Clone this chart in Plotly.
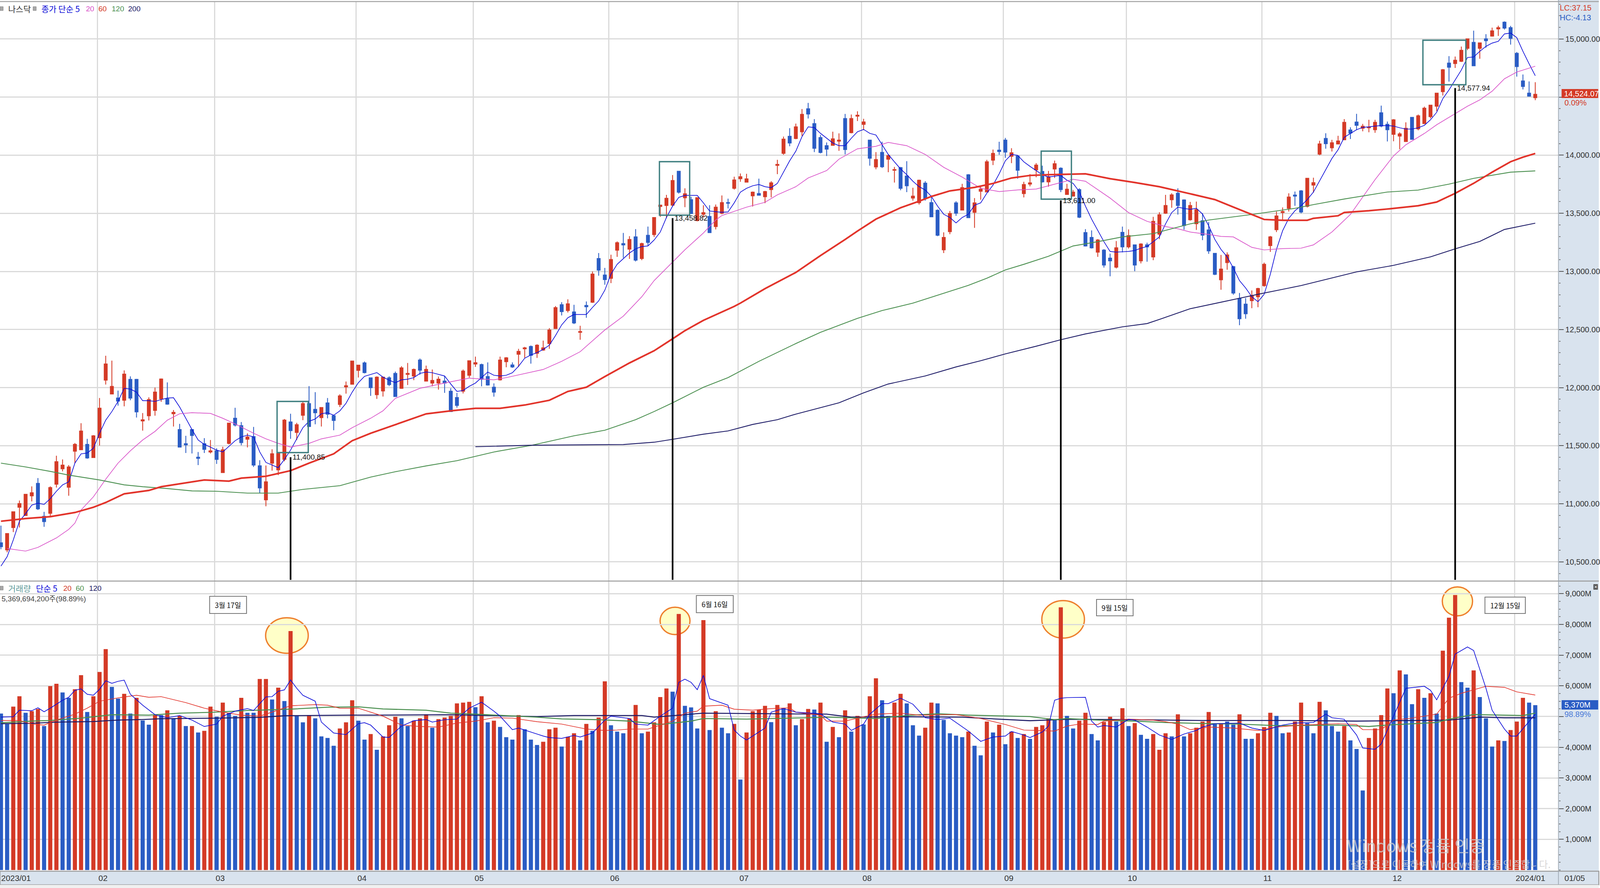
import plotly.graph_objects as go

# 나스닥 일봉 2023/01 ~ 2024/01, values read from the screen shot
# W, H: size of the screen shot, positions below are in its pixels
W, H = 5026, 2274
# the browser page is only 4096 wide, so text and lines get a bit smaller
S = 1.18

opens = [10664,10603,10796,10970,10899,11069,11176,10892,10918,11169,
11301,11143,11453,11465,11511,11398,11569,12064,11945,11910,
11891,12071,12071,11713,11758,11804,11903,11903,11775,11639,
11517,11639,11401,11517,11446,11456,11269,11520,11736,11672,
11556,11578,11327,11034,11350,11292,11382,11704,11614,11762,
11862,11813,11742,11868,11758,11855,12006,12029,12148,12213,
12084,11939,11971,12084,12122,11994,12114,12100,12237,12056,
12039,12039,12056,11969,11914,11969,12106,12203,12198,12095,
12003,12067,12223,12195,12287,12334,12354,12295,12323,12379,
12509,12713,12663,12651,12476,12707,12735,13111,12969,12941,
13183,13239,13192,13297,13111,13311,13317,13559,13567,13570,
13862,13634,13617,13437,13492,13473,13386,13501,13592,13715,
13798,13768,13651,13670,13643,13704,13913,14016,14163,14144,
14202,14400,14272,14152,14082,14085,14121,14316,14194,14336,
14266,14130,13899,14024,13966,13871,13893,13821,13631,13592,
13759,13592,13526,13186,13342,13590,13528,13832,13509,13690,
13684,13957,14043,14130,13991,13993,13670,13751,13874,13860,
13771,13882,13888,13662,13648,13704,13334,13292,13166,13183,
13114,13036,13336,13211,13228,13091,13228,13125,13320,13501,
13617,13673,13615,13445,13410,13436,13357,13155,12928,13076,
13041,12767,12718,12748,12782,12878,13222,13359,13507,13543,
13657,13693,13560,13743,14009,14144,14064,14097,14133,14217,
14285,14232,14236,14219,14365,14266,14180,14165,14118,14326,
14227,14272,14332,14422,14547,14793,14789,14808,14920,14971,
14920,15001,15025,15087,15145,15098,14877,14639,14534,14495]

closes = [10631,10744,10931,11002,11082,11095,10957,10847,11140,11362,
11333,11317,11511,11626,11395,11585,11823,12203,12010,11884,
12116,11910,11791,11723,11897,11961,12074,11858,11787,11488,
11507,11588,11391,11469,11456,11382,11465,11694,11678,11527,
11575,11333,11137,11189,11430,11433,11720,11630,11681,11862,
11665,11784,11829,11771,11717,11929,12016,12229,12193,12129,
12000,12090,12090,12026,11923,12170,12122,12156,12150,12156,
12061,12072,12039,11794,11847,12142,12231,12214,12072,12022,
11961,12237,12256,12178,12312,12342,12278,12365,12342,12496,
12688,12654,12721,12557,12482,12696,12977,13011,12930,13102,
13247,13228,13275,13097,13239,13250,13464,13570,13629,13782,
13682,13668,13498,13634,13506,13334,13553,13592,13587,13787,
13815,13796,13682,13656,13687,13762,13921,14138,14105,14244,
14352,14355,14060,14024,14052,14141,14130,14049,14316,14344,
14286,13974,13963,13901,13996,13876,13715,13737,13648,13785,
13626,13470,13311,13292,13498,13501,13721,13462,13590,13707,
13943,14016,14032,14027,14021,13871,13748,13762,13915,13771,
13815,13927,13704,13707,13682,13467,13219,13203,13270,13055,
13091,13203,13211,13308,13055,13236,13211,13431,13487,13567,
13659,13567,13395,13567,13532,13312,13177,12975,13020,13142,
12814,12593,12636,12793,12853,13061,13297,13477,13515,13640,
13648,13511,13801,13764,14097,14099,14107,14122,14283,14191,
14257,14249,14242,14283,14251,14219,14305,14184,14232,14137,
14339,14405,14431,14534,14736,14757,14817,14903,15001,14770,
14967,14986,15070,15098,15094,15006,14763,14592,14508,14524.07]

highs = [10812,10744,10931,11028,11082,11150,11221,10931,11150,11414,
11382,11333,11523,11694,11559,11591,11910,12274,12232,11974,
12148,12097,12075,11781,11916,12000,12078,12045,11807,11688,
11585,11640,11446,11565,11549,11478,11491,11694,11826,11704,
11607,11662,11375,11330,11469,11433,11730,11775,11697,11878,
12013,11961,11829,11910,11760,11942,12052,12229,12193,12225,
12084,12097,12090,12097,12138,12184,12212,12164,12251,12189,
12156,12095,12100,11994,11955,12156,12231,12267,12206,12217,
12036,12267,12262,12217,12334,12351,12362,12373,12404,12512,
12702,12735,12760,12713,12532,12741,12999,13158,13030,13144,
13258,13331,13303,13364,13247,13386,13464,13570,13659,13829,
13862,13715,13642,13634,13570,13570,13576,13654,13626,13815,
13843,13840,13687,13798,13693,13776,13960,14160,14233,14272,
14397,14450,14311,14174,14110,14202,14188,14355,14350,14378,
14313,14130,14027,14116,14007,13899,13899,13949,13720,13790,
13776,13654,13534,13336,13520,13604,13754,13837,13631,13734,
13960,14049,14116,14149,14060,13999,13771,13837,13932,13910,
13865,13954,13896,13754,13701,13715,13364,13353,13278,13192,
13153,13261,13386,13361,13228,13242,13247,13470,13509,13659,
13673,13715,13620,13598,13601,13500,13425,13159,13142,13164,
13048,12814,12771,12836,12859,13076,13305,13515,13550,13672,
13687,13700,13803,13807,14124,14189,14133,14167,14311,14240,
14356,14270,14305,14305,14427,14290,14311,14197,14283,14326,
14350,14418,14433,14534,14742,14853,14849,14935,15001,15072,
14969,15042,15098,15115,15152,15113,14888,14695,14635,14628]

lows = [10609,10583,10757,10796,10899,11021,10947,10802,10886,11140,
11279,11069,11350,11465,11388,11395,11501,12026,11945,11845,
11839,11891,11742,11630,11717,11758,11878,11852,11665,11485,
11437,11433,11333,11437,11433,11343,11269,11511,11665,11504,
11485,11317,11092,10979,11285,11247,11366,11559,11549,11720,
11662,11684,11665,11736,11633,11833,11948,12026,12087,12122,
11929,11903,11923,12013,11923,11989,12022,12064,12111,12056,
12011,11983,11955,11794,11827,11950,12086,12178,12011,12017,
11922,12061,12175,12170,12178,12256,12206,12256,12317,12334,
12504,12621,12646,12546,12412,12601,12729,12963,12885,12899,
13125,13116,13108,13086,13097,13222,13297,13470,13459,13559,
13670,13553,13498,13431,13464,13331,13361,13492,13542,13704,
13771,13765,13559,13654,13587,13637,13837,14004,14077,14138,
14166,14316,14027,14016,13993,14082,14038,14007,14188,14294,
14216,13910,13879,13890,13854,13765,13698,13682,13609,13576,
13609,13467,13303,13158,13320,13478,13528,13459,13375,13617,
13682,13915,14004,13977,13932,13798,13637,13732,13810,13765,
13729,13804,13682,13659,13645,13459,13214,13197,13125,13033,
12958,13025,13164,13197,13002,13069,13083,13097,13278,13495,
13548,13489,13359,13437,13357,13269,13151,12968,12842,13014,
12799,12537,12593,12683,12692,12868,13168,13339,13442,13515,
13565,13500,13550,13678,14000,14056,14032,14094,14129,14139,
14219,14206,14197,14193,14240,14118,14120,14051,14116,14133,
14214,14268,14317,14380,14513,14633,14751,14802,14905,14766,
14830,14926,15021,15027,15081,14952,14676,14566,14504,14474]

ma5 = [10464,10545,10689,10850,10915,10989,11005,10995,11044,11108,
11163,11189,11350,11430,11437,11478,11607,11720,11794,11881,
11994,11987,11961,11887,11887,11881,11897,11910,11913,11833,
11736,11639,11549,11511,11488,11462,11446,11494,11543,11575,
11591,11575,11446,11356,11333,11311,11382,11462,11559,11655,
11710,11730,11775,11784,11762,11800,11865,11961,12042,12097,
12113,12129,12090,12064,12042,12067,12072,12086,12122,12134,
12128,12114,12100,12031,11967,11975,12011,12039,12086,12134,
12106,12100,12106,12128,12184,12253,12281,12301,12329,12365,
12448,12540,12601,12629,12629,12629,12690,12746,12838,12977,
13061,13108,13158,13194,13214,13219,13270,13339,13464,13562,
13637,13654,13654,13654,13590,13520,13514,13509,13512,13590,
13682,13715,13737,13748,13729,13721,13757,13854,13952,14035,
14160,14244,14238,14188,14146,14105,14082,14082,14146,14202,
14222,14188,14174,14091,14007,13943,13882,13832,13776,13729,
13701,13645,13562,13492,13464,13417,13464,13492,13570,13590,
13673,13743,13840,13952,14007,13999,13943,13904,13868,13832,
13812,13818,13826,13785,13757,13687,13562,13450,13353,13256,
13172,13166,13169,13172,13180,13200,13214,13256,13297,13409,
13506,13553,13542,13534,13543,13494,13393,13275,13189,13125,
13029,12921,12857,12782,12739,12803,12975,13189,13350,13457,
13522,13565,13618,13683,13779,13876,13972,14047,14154,14187,
14219,14240,14244,14251,14255,14255,14251,14236,14225,14225,
14236,14257,14305,14369,14487,14562,14648,14733,14841,14845,
14894,14937,14965,14980,15044,15051,15012,14894,14787,14684]

ma20_idx = [1,4,6,9,11,12,13,15,17,19,21,23,25,27,29,31,34,36,38,41,43,45,47,50,52,55,57,60,62,64,
68,70,73,76,80,82,85,88,91,94,98,101,104,106,109,111,114,116,117,121,124,126,129,
131,134,136,139,142,144,147,150,153,156,159,162,165,168,172,174,176,180,183,186,189,191,193,
196,198,200,203,205,208,211,213,216,219,221,223,226,228,231,233,236,238,240,242,244,246,249]
ma20 = [10615,10593,10625,10706,10780,10834,10947,11060,11211,11350,11456,11549,11623,11720,11775,11784,11778,11736,11688,11607,11559,11520,11488,11520,11559,11591,11655,11736,11800,11907,
11994,12017,12050,12081,12067,12086,12122,12156,12226,12309,12496,12615,12782,12921,13080,13186,13331,13442,13481,13553,13595,13659,13729,
13804,13868,13966,14055,14077,14110,14082,14007,13896,13812,13715,13687,13701,13709,13765,13793,13776,13631,13506,13431,13386,13367,13339,
13318,13301,13297,13207,13185,13196,13200,13228,13339,13490,13640,13790,13994,14090,14187,14262,14358,14422,14476,14551,14658,14716,14766]

ma60_idx = [0,4,8,12,15,17,20,24,26,30,33,37,39,43,47,50,54,57,60,64,
67,69,73,77,81,85,89,92,95,98,102,106,109,111,114,119,120,124,129,
133,137,139,142,146,149,151,154,158,161,164,167,170,176,180,184,188,193,
197,200,203,205,208,212,213,217,218,222,225,230,233,236,239,242,245,247,249]
ma60 = [10850,10873,10889,10925,10970,11011,11086,11115,11147,11179,11205,11195,11221,11237,11285,11350,11430,11543,11607,11681,
11738,11774,11800,11822,11822,11850,11891,11967,12003,12095,12212,12317,12420,12490,12579,12699,12727,12852,12991,
13136,13275,13347,13450,13548,13604,13645,13693,13723,13757,13804,13826,13832,13840,13798,13765,13729,13668,
13618,13554,13490,13447,13440,13440,13457,13479,13507,13522,13537,13565,13597,13672,13758,13854,13944,13983,14015]

ma120_idx = [0,4,8,11,16,20,23,27,31,35,40,45,49,55,60,64,
69,74,80,86,93,98,103,106,109,114,118,120,123,129,
133,139,143,148,154,157,160,163,166,170,174,178,182,187,190,193,
196,200,203,210,213,218,225,230,235,239,245,249]
ma120 = [11350,11317,11279,11247,11205,11163,11147,11131,11111,11108,11092,11092,11124,11156,11230,11276,
11326,11371,11446,11502,11585,11633,11724,11794,11869,12003,12086,12142,12226,12379,
12476,12596,12663,12727,12830,12880,12941,13013,13061,13130,13219,13256,13297,13325,13367,13409,
13442,13468,13490,13543,13575,13623,13683,13700,13751,13801,13854,13865]

ma200_idx = [77,86,101,106,109,114,118,122,126,129,136,140,144,150,155,159,163,168,172,176,182,186,188,193,
198,204,211,220,226,232,236,240,244,249]
ma200 = [11491,11504,11510,11530,11555,11599,11627,11683,11724,11772,11869,11955,12031,12100,12178,12231,12290,12356,12412,12462,12523,12551,12587,12679,
12735,12803,12878,12996,13052,13125,13194,13258,13361,13415]

volume = [5097,4754,5324,5661,5123,5175,5246,4689,5991,6069,
5784,5609,5888,6347,5149,5661,6451,7196,5965,5583,
5739,5097,5609,4871,4735,5046,5046,5201,4948,5026,
4689,4689,4482,4534,5324,4994,5454,5123,5020,5609,
5123,5123,6224,6224,5557,5939,5505,7785,5020,4812,
5026,4942,4353,4301,4048,4612,4812,5531,4864,4249,
4430,3919,4353,4715,4994,4942,4689,4864,4942,5071,
4638,4916,4968,5020,5428,5454,5480,5305,5661,4812,
4864,4663,4327,4249,5046,4586,4249,4074,4178,4586,
4638,4022,4340,4456,4223,4761,4534,4968,6147,4715,
4508,4456,4942,5376,4456,4508,4812,5635,5914,5810,
8342,5350,5298,4612,8142,4560,5175,4638,4456,4761,
2947,4482,5175,5227,5350,4819,5376,5272,5428,4715,
4916,5246,5227,5454,4178,4663,4327,5201,4508,5020,
4741,5661,6244,5531,5020,5454,5739,5428,4715,4378,
4638,5454,5428,4890,4456,4378,4327,4508,4048,3737,
4838,4482,4735,4100,4508,4301,4430,4275,4663,4715,
4942,4916,8556,5020,4612,4864,5123,4430,4223,4825,
4994,4838,5272,4689,4787,4404,4275,4430,3919,4456,
4353,5071,4353,4456,4638,4838,5149,4754,4787,4838,
4735,5071,4275,4275,4456,4657,5123,5020,4456,4482,
4838,5454,4787,4456,5480,5201,4689,4508,4689,4223,
3944,2591,4301,4612,5046,5914,5758,6503,6373,5402,
5888,5609,5758,5097,7144,8219,8958,6121,5939,6503,
5635,4942,4022,4223,4204,4560,4838,5609,5454,5370]

vol_up = list("bbrrbrrbrr" "bbrrbrrrbb" "rbrbbrbrbr" "brbrrbrbbr" "bbrrbrbrbb"
              "rbbbbrrrbb" "rbrrrbbrrr" "brrrrrrbrb" "rbbbrbbbrr" "rbrrbrbrrb"
              "bbrrbrrrrb" "rbbbrbrbbr" "brrrrbrbrb" "rrbrbrbrbr" "brrbbrrbbb"
              "rrbbbbbrbb" "rbrbrbrbrr" "rbrbbrrbbr" "rbrbrbbrrr" "brbrrrrbrb"
              "brbbrrrbbr" "rrbbrbbbrb" "bbrrrrbrbb" "rbrbrrrbbr" "bbbrbrrrbb")

vma5_idx = [0,2,3,5,6,7,8,10,11,12,13,14,15,16,17,18,19,20,21,23,
25,27,29,31,33,35,36,38,40,41,43,44,45,46,47,48,49,51,52,54,
56,58,59,60,62,63,65,67,69,70,72,74,76,78,80,81,83,84,87,
88,89,91,93,94,96,98,99,102,103,105,107,109,110,111,112,113,114,115,118,
119,120,121,124,125,127,129,133,135,137,138,140,141,143,144,146,148,150,152,154,
157,159,161,163,164,166,167,169,170,171,172,173,
176,177,178,179,181,183,184,186,188,190,192,194,195,197,200,201,203,205,208,210,
213,215,216,218,220,221,223,224,226,228,231,232,233,235,236,238,239,241,242,244,245,246,249]
vma5 = [4981,4994,5207,5188,5285,5156,5272,5531,5628,5855,5900,5726,5693,5888,6166,6082,6147,6185,5726,5369,
5059,4961,5033,4884,4676,4754,5013,5175,5259,5195,5641,5648,5823,5868,6192,5920,5693,5499,4819,4463,
4411,4767,4799,4722,4333,4320,4689,4864,4903,4819,4897,4916,5272,5467,5175,5013,4573,4625,4430,
4365,4314,4288,4385,4333,4463,4884,5013,4935,4754,4722,5013,5272,6114,6218,6114,5875,6341,5583,5369,
4560,4365,4236,4625,5143,5259,5143,5091,4819,4754,4547,4754,5078,5421,5421,5596,5402,4961,4903,4948,
4527,4191,4333,4365,4514,4398,4314,4495,4689,5531,5596,5616,
5628,4851,4657,4709,4657,4910,4884,4657,4398,4255,4430,4547,4657,4767,4787,4787,4625,4547,4722,4787,
4806,5078,4961,4910,4398,3977,3932,4106,5013,5920,5985,5855,5544,6309,7034,7267,7151,5920,5207,4592,4365,4365,5078]

vma20_idx = [0,3,5,7,9,12,14,16,19,22,24,26,30,33,36,39,42,44,47,51,53,55,58,62,65,68,71,74,77,80,83,
87,91,95,98,100,102,105,109,111,113,114,117,119,122,125,128,129,133,134,137,139,142,146,149,155,159,163,166,171,173,
175,178,179,183,187,189,191,193,196,200,204,207,211,217,220,221,224,226,229,233,235,237,241,244,246,249]
vma20 = [4871,4871,4754,4722,4884,5078,5272,5499,5609,5693,5628,5648,5454,5272,5143,5046,5013,5143,5350,5389,5369,5272,5272,5013,4722,4676,4657,4787,4851,4961,4948,
4832,4754,4592,4547,4560,4592,4592,4851,5110,5175,5337,5369,5240,5207,5259,5285,5143,5046,4851,4851,4948,5078,5110,5046,5065,4935,4741,4560,4527,4689,
4754,4741,4851,4916,4884,4832,4754,4573,4657,4625,4547,4657,4722,4767,4741,4573,4573,4884,4948,5078,5596,5758,5985,5952,5803,5700]

vma60_idx = [0,5,8,13,18,24,29,34,40,47,53,58,62,69,73,77,87,
91,97,102,107,112,114,121,131,134,142,147,152,157,167,171,173,
178,184,189,195,201,207,217,222,225,233,235,239,245,247,249]
vma60 = [4799,4851,4871,4948,5059,5046,5110,5136,5195,5240,5305,5318,5246,5207,5110,5078,4981,
4923,4897,4851,4741,4851,4935,4916,4961,4981,4935,5033,5091,5046,5000,4897,4935,
4884,4851,4806,4773,4754,4702,4722,4676,4722,4806,4916,5065,5046,5033,5110]

vma120_idx = [0,5,9,15,19,23,26,35,42,46,57,61,73,87,
93,104,106,110,114,125,134,138,145,156,160,167,173,
184,195,209,220,235,240,244,249]
vma120 = [4767,4780,4819,4838,4884,4903,4929,4948,4974,5026,5046,5046,5059,5000,
5033,5033,4981,5046,5110,5091,5078,4981,4994,4981,4935,4864,4910,
4897,4871,4871,4851,4884,4981,4959,4959]

month_idx = [16,35,58,77,99,120,140,163,183,205,226,246]
month_labels = ["02","03","04","05","06","07","08","09","10","11","12","2024/01"]
price_ticks = [10500,11000,11500,12000,12500,13000,13500,14000,14500,15000]
# 14,500 and 5,000M sit under the current value boxes
price_labels = ["10,500.00","11,000.00","11,500.00","12,000.00","12,500.00",
                "13,000.00","13,500.00","14,000.00","","15,000.00"]
vol_ticks = [1000,2000,3000,4000,5000,6000,7000,8000,9000]
vol_labels = ["1,000M","2,000M","3,000M","4,000M","","6,000M","7,000M","8,000M","9,000M"]

# 표시 지점
mark_idx = [47,109,172,236]
mark_val = [11400.85,13458.82,13611.00,14577.94]
mark_txt = ["11,400.85","13,458.82","13,611.00","14,577.94"]

RED = "#d43a26"
BLUE = "#2a5cc4"
LATIN = "Liberation Sans, Noto Sans CJK KR"
KOREAN = "Noto Sans CJK KR"
GRID = "#dadada"
PANEL = "#d9e3ee"


def px(x):
    return x / W


def py(y):
    return 1 - y / H


def lw(v):
    return v / S


fig = go.Figure()

fig.add_trace(go.Candlestick(
    x=list(range(len(opens))), open=opens, high=highs, low=lows, close=closes,
    increasing=dict(line=dict(color=RED, width=lw(2.5)), fillcolor=RED),
    decreasing=dict(line=dict(color=BLUE, width=lw(2.5)), fillcolor=BLUE),
    xaxis="x", yaxis="y", hoverinfo="skip"))

# 이동평균
fig.add_trace(go.Scatter(x=list(range(len(ma5))), y=ma5, mode="lines", line=dict(color="#0a0ad8", width=lw(2))))
fig.add_trace(go.Scatter(x=ma20_idx, y=ma20, mode="lines", line=dict(color="#d84fc8", width=lw(2))))
fig.add_trace(go.Scatter(x=ma120_idx, y=ma120, mode="lines", line=dict(color="#4a8f4f", width=lw(2.5))))
fig.add_trace(go.Scatter(x=ma200_idx, y=ma200, mode="lines", line=dict(color="#1c1a66", width=lw(2.5))))
fig.add_trace(go.Scatter(x=ma60_idx, y=ma60, mode="lines", line=dict(color="#e2332a", width=lw(5))))

# 거래량
fig.add_trace(go.Bar(x=list(range(len(volume))), y=volume,
                     marker=dict(color=[RED if c == "r" else BLUE for c in vol_up], line=dict(width=0)),
                     xaxis="x2", yaxis="y2"))
fig.add_trace(go.Scatter(x=vma120_idx, y=vma120, mode="lines", line=dict(color="#1c1a66", width=lw(3)), xaxis="x2", yaxis="y2"))
fig.add_trace(go.Scatter(x=vma60_idx, y=vma60, mode="lines", line=dict(color="#4a8f4f", width=lw(3)), xaxis="x2", yaxis="y2"))
fig.add_trace(go.Scatter(x=vma20_idx, y=vma20, mode="lines", line=dict(color="#e2332a", width=lw(2)), xaxis="x2", yaxis="y2"))
fig.add_trace(go.Scatter(x=vma5_idx, y=vma5, mode="lines", line=dict(color="#0a0ad8", width=lw(2)), xaxis="x2", yaxis="y2"))

grid_x = [m - 0.35 for m in month_idx]
x_right = px(4899)
x_range = [-0.155, 252.76]
tick_font = dict(family=LATIN, size=20, color="#333333")

shapes = []


def box(x0, y0, x1, y1, fill, line=None, width=0, layer="below"):
    shapes.append(dict(type="rect", xref="paper", yref="paper", x0=px(x0), x1=px(x1), y0=py(y1), y1=py(y0),
                       fillcolor=fill, line=dict(color=line or fill, width=lw(width)), layer=layer))


# 눈금 영역, 하단 날짜 영역
box(4899, 0, W, 2266, PANEL)
box(0, 2231, W, 2266, PANEL, "#9a9a9a", 3)
box(0, 2266, W, H, "#f0f0f0")
shapes.append(dict(type="line", xref="paper", yref="paper", x0=0, x1=1, y0=py(4), y1=py(4),
                   line=dict(color="#a0a0a0", width=lw(3)), layer="above"))
shapes.append(dict(type="line", xref="paper", yref="paper", x0=0, x1=1, y0=py(1488), y1=py(1488),
                   line=dict(color="#9a9a9a", width=lw(3)), layer="above"))
shapes.append(dict(type="line", xref="paper", yref="paper", x0=x_right, x1=x_right, y0=py(2266), y1=py(0),
                   line=dict(color="#9aa4ae", width=lw(2)), layer="above"))

# 거래량 급증 표시 (노란 원)
for x0, y0, x1, y1 in [(835, 1582, 969, 1673), (2075, 1555, 2169, 1625),
                       (3275, 1538, 3409, 1634), (4534, 1503, 4629, 1577)]:
    shapes.append(dict(type="circle", xref="paper", yref="paper", x0=px(x0), x1=px(x1), y0=py(y1), y1=py(y0),
                       fillcolor="#ffffc8", line=dict(color="#ee7f2d", width=lw(4)), layer="below"))

# 청록 네모
for x0, y0, x1, y1 in [(871, 1028, 969, 1159), (2073, 414, 2168, 551),
                       (3273, 387, 3368, 510), (4473, 103, 4608, 217)]:
    shapes.append(dict(type="rect", xref="paper", yref="paper", x0=px(x0), x1=px(x1), y0=py(y1), y1=py(y0),
                       line=dict(color="#3f7f80", width=lw(4)), layer="above"))

# 검은 세로선
for i, v in zip(mark_idx, mark_val):
    shapes.append(dict(type="line", xref="x", yref="y", x0=i, x1=i, y0=v, y1=10345,
                       line=dict(color="#000000", width=lw(5)), layer="above"))

annotations = []


def label(text, x, y, color="#333333", size=21, family=KOREAN, anchor="left"):
    annotations.append(dict(text=text, xref="paper", yref="paper", x=px(x), y=py(y), xanchor=anchor, yanchor="middle",
                            showarrow=False, font=dict(family=family, size=size, color=color)))


# 범례
for y0 in (22, 1506):
    box(0, y0 - 5, 10, y0 + 5, "#a8a8a8", "#777777", 1, "above")
box(104, 17, 114, 27, "#a8a8a8", "#777777", 1, "above")
label("나스닥", 23, 22)
label("종가 단순 5", 128, 22, "#0a0ad8")
label("20", 268, 22, "#d84fc8", 19, LATIN)
label("60", 307, 22, "#d43a26", 19, LATIN)
label("120", 349, 22, "#4a8f4f", 19, LATIN)
label("200", 400, 22, "#1c1a66", 19, LATIN)
label("거래량", 23, 1506, "#5f9a9a")
label("단순 5", 111, 1506, "#0a0ad8")
label("20", 196, 1506, "#d43a26", 19, LATIN)
label("60", 236, 1506, "#4a8f4f", 19, LATIN)
label("120", 277, 1506, "#1c1a66", 19, LATIN)
label("5,369,694,200주(98.89%)", 3, 1533, "#444444", 19, LATIN)

# 우측 현재값
label("LC:37.15", 4901, 20, "#d43a26", 20, LATIN)
label("HC:-4.13", 4901, 45, "#2a5cc4", 20, LATIN)
box(4909, 228, 5024, 251, RED, layer="above")
label("14,524.07", 4914, 239.5, "#ffffff", 20, LATIN)
label("0.09%", 4915, 263, "#d43a26", 20, LATIN)
box(4909, 1793, 5024, 1817, BLUE, layer="above")
label("5,370M", 4916, 1805, "#ffffff", 20, LATIN)
label("98.89%", 4916, 1829, "#4a7ad8", 20, LATIN)
box(5009, 1496, 5023, 1510, "#555555", layer="above")
label("×", 5016, 1503, "#ffffff", 14, LATIN, "center")

# 날짜 상자
for text, x0, y0, x1, y1 in [("3월 17일", 659, 1527, 775, 1571), ("6월 16일", 2189, 1525, 2305, 1569),
                             ("9월 15일", 3447, 1535, 3562, 1577), ("12월 15일", 4668, 1529, 4795, 1571)]:
    box(x0, y0, x1, y1, "#ffffff", "#777777", 2.5, "above")
    label(text, (x0 + x1) / 2, (y0 + y1) / 2, "#111111", 18, KOREAN, "center")

# 세로선 값
for i, v, t in zip(mark_idx, mark_val, mark_txt):
    annotations.append(dict(text=t, xref="x", yref="y", x=i, y=v, xanchor="left", yanchor="middle", xshift=3,
                            showarrow=False, font=dict(family=LATIN, size=19, color="#111111")))

# 하단 날짜
label("2023/01", 1, 2248, "#333333", 21, LATIN)
for g, t in zip(grid_x, month_labels):
    annotations.append(dict(text=t, xref="x", yref="paper", x=g, y=py(2248), xanchor="left", yanchor="middle", xshift=1,
                            showarrow=False, font=dict(family=LATIN, size=21, color="#333333")))
label("01/05", 4916, 2248, "#333333", 21, LATIN)

# Windows 워터마크
label("Windows 정품 인증", 4233, 2163, "rgba(205,205,205,0.8)", 42)
label("[설정]으로 이동하여 Windows를 정품 인증합니다.", 4233, 2212, "rgba(205,205,205,0.8)", 25)

fig.update_layout(
    width=4096, height=H, margin=dict(l=0, r=0, t=0, b=0), showlegend=False,
    paper_bgcolor="#ffffff", plot_bgcolor="#ffffff", boxgap=0.3, bargap=0.33, hovermode=False,
    shapes=shapes, annotations=annotations,
    xaxis=dict(domain=[0, x_right], range=x_range, anchor="y", rangeslider=dict(visible=False),
               tickmode="array", tickvals=grid_x, showticklabels=False, ticks="",
               showgrid=True, gridcolor=GRID, gridwidth=lw(3), zeroline=False),
    xaxis2=dict(domain=[0, x_right], range=x_range, anchor="y2",
                tickmode="array", tickvals=grid_x, showticklabels=False, ticks="",
                showgrid=True, gridcolor=GRID, gridwidth=lw(3), zeroline=False),
    yaxis=dict(domain=[py(1488), py(5)], range=[10335, 15319], side="right", anchor="x",
               tickmode="array", tickvals=price_ticks, ticktext=price_labels, tickfont=tick_font,
               ticks="outside", ticklen=lw(15), tickcolor="#555555", tickwidth=lw(2),
               minor=dict(dtick=100, ticks="outside", ticklen=lw(5), tickcolor="#777777", showgrid=False),
               showgrid=True, gridcolor=GRID, gridwidth=lw(3), zeroline=False),
    yaxis2=dict(domain=[py(2231), py(1489)], range=[-38, 9400], side="right", anchor="x2",
                tickmode="array", tickvals=vol_ticks, ticktext=vol_labels, tickfont=tick_font,
                ticks="outside", ticklen=lw(15), tickcolor="#555555", tickwidth=lw(2),
                minor=dict(dtick=250, ticks="outside", ticklen=lw(5), tickcolor="#777777", showgrid=False),
                showgrid=True, gridcolor=GRID, gridwidth=lw(3), zeroline=False),
)

# fill the browser window whatever its real size is
fit = ("document.body.style.margin='0';document.body.style.overflow='hidden';"
       "Plotly.relayout(document.querySelector('.plotly-graph-div'),"
       "{width:window.innerWidth,height:window.innerHeight});")
fig.write_html("out.html", config=dict(displayModeBar=False), post_script=fit)
